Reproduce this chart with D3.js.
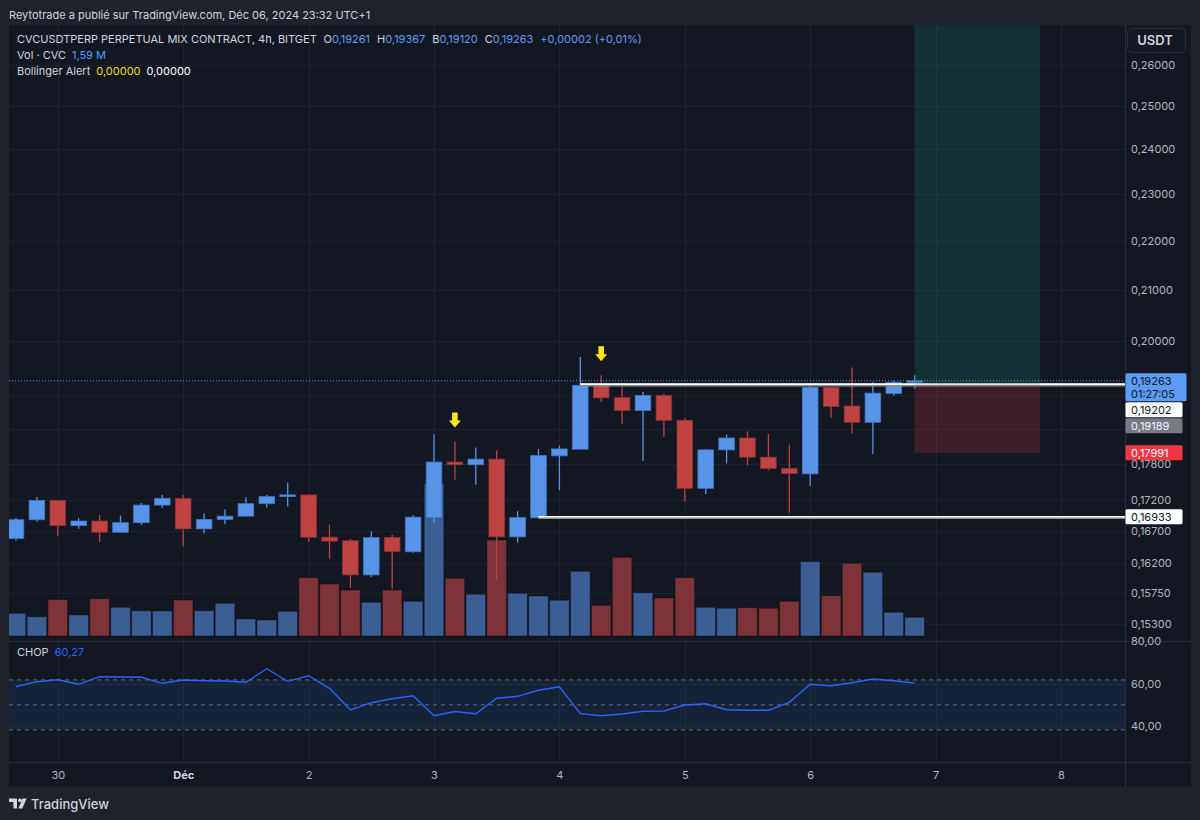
<!DOCTYPE html>
<html lang="fr">
<head>
<meta charset="UTF-8">
<title>CVCUSDTPERP 4h</title>
<script src="https://cdn.jsdelivr.net/npm/d3@7"></script>
<style>
  body { margin: 0; background: #1f222b; }
  svg { display: block; font-family: Inter, "Noto Sans", sans-serif; }
</style>
</head>
<body>
<svg id="chart" width="1200" height="820"></svg>
<script>
// bougies 4h, index 0 = 29 nov 16:00 (UTC+1)
const opens  = [0.16587,0.16884,0.17198,0.16790,0.16864,0.16685,0.16837,0.17121,0.17231,0.16739,0.16889,0.16942,0.17143,0.17259,0.17287,0.16607,0.16551,0.16023,0.16602,0.16379,0.16920,0.17834,0.17789,0.17884,0.16613,0.16915,0.17939,0.18053,0.19180,0.18960,0.18726,0.18995,0.18555,0.17396,0.18041,0.18246,0.17917,0.17728,0.17635,0.19143,0.18808,0.18520,0.19032,0.19261];
const highs  = [0.16911,0.17254,0.17205,0.16911,0.16962,0.16951,0.17154,0.17287,0.17287,0.16983,0.17055,0.17247,0.17287,0.17486,0.17290,0.16806,0.16582,0.16696,0.16645,0.16955,0.18310,0.18187,0.18081,0.18035,0.17022,0.18058,0.18116,0.19704,0.19364,0.19229,0.19058,0.19026,0.18591,0.18058,0.18304,0.18362,0.18317,0.18129,0.19180,0.19150,0.19507,0.19235,0.19261,0.19367];
const lows   = [0.16556,0.16853,0.16623,0.16739,0.16529,0.16681,0.16801,0.17077,0.16466,0.16670,0.16811,0.16935,0.17081,0.17098,0.16535,0.16269,0.15826,0.15993,0.15812,0.16363,0.16833,0.17536,0.17453,0.15949,0.16524,0.16910,0.17363,0.18050,0.18879,0.18492,0.17851,0.18264,0.17181,0.17297,0.17811,0.17773,0.17695,0.16998,0.17430,0.18603,0.18322,0.17972,0.18995,0.19120];
const closes = [0.16884,0.17198,0.16790,0.16864,0.16685,0.16837,0.17121,0.17231,0.16739,0.16889,0.16942,0.17143,0.17259,0.17287,0.16607,0.16545,0.16023,0.16602,0.16383,0.16926,0.17834,0.17789,0.17884,0.16613,0.16920,0.17944,0.18058,0.19180,0.18954,0.18726,0.18995,0.18555,0.17396,0.18041,0.18246,0.17917,0.17728,0.17640,0.19143,0.18801,0.18520,0.19039,0.19235,0.19263];
// volume en millions de CVC
const volumes = [1.93,1.64,3.09,1.79,3.17,2.44,2.15,2.13,3.06,2.15,2.78,1.45,1.36,2.10,4.96,4.42,3.91,2.87,3.91,2.95,12.92,4.91,3.55,8.16,3.63,3.40,3.04,5.50,2.61,6.69,3.68,3.23,4.96,2.44,2.36,2.41,2.36,2.95,6.32,3.43,6.18,5.42,2.02,1.59];
const chop = [58.58,60.95,61.89,59.72,63.31,63.17,63.03,60.19,61.75,61.42,61.28,60.66,67.09,61.13,63.78,57.83,47.57,51.02,52.91,54.33,44.87,46.86,45.82,53.10,54.04,56.88,58.58,45.82,44.87,45.67,46.95,47.09,49.93,50.54,47.71,47.42,47.42,51.21,59.72,59.05,60.47,62.22,61.42,60.27];

// flèches "Bollinger Alert"
const alertBars = [21, 28];

// niveaux horizontaux tracés (prix, bougie de départ)
const levelPrices = [0.19202, 0.16933];
const levelStart = [27, 25];

// position longue
const posStartBar = 43, posEndBar = 49;
const posEntry = 0.19189, posStop = 0.17991, posTarget = 0.28;

// lignes de grille (0.19 et 0.184 sont cachées par les étiquettes)
const gridPrices = [0.26, 0.25, 0.24, 0.23, 0.22, 0.21, 0.20, 0.19, 0.184, 0.178, 0.172, 0.167, 0.162, 0.1575, 0.153];
const priceTicks = [0.26, 0.25, 0.24, 0.23, 0.22, 0.21, 0.20, 0.178, 0.172, 0.167, 0.162, 0.1575, 0.153];
const chopTicks = [80, 60, 40];
const chopLevels = [61.8, 50, 38.2];
const countdown = "01:27:05";

const UP = "#5895e9", DOWN = "#be4342";
const UP_BORDER = "#3f77c9", DOWN_BORDER = "#8f3232";
const VOL_UP = "#3b5e95", VOL_DOWN = "#7d3337";
const TXT = "#d1d4dc", TICK = "#b2b5be", BLUE = "#5b9cf6";

const svg = d3.select("#chart");
const pane = {left: 9, right: 1125, top: 25, bottom: 640};
const chopPane = {top: 642, bottom: 762};
const frameRight = 1191, frameBottom = 787;

const t0 = Date.UTC(2024, 10, 29, 16);
const step = 4 * 3600 * 1000;
const dates = opens.map((d, i) => new Date(t0 + i * step));
const barDate = i => new Date(t0 + i * step);
const fmt5 = v => v.toFixed(5).replace(".", ",");

const x = d3.scaleUtc()
    .domain([new Date(t0), new Date(Date.UTC(2024, 11, 8))])
    .range([16, 1061]);
const y = d3.scaleLog().domain([0.153, 0.26]).range([623.6, 64.7]);
const yVol = d3.scaleLinear().domain([0, 13]).range([636, 483]);
const yChop = d3.scaleLinear().domain([40, 60]).range([726, 683.7]);

// fonds
svg.append("rect").attr("width", 1200).attr("height", 820).attr("fill", "#1f222b");
svg.append("rect")
    .attr("x", pane.left).attr("y", pane.top)
    .attr("width", frameRight - pane.left).attr("height", frameBottom - pane.top)
    .attr("fill", "#131722");

const defs = svg.append("defs");
defs.append("clipPath").attr("id", "clipMain").append("rect")
    .attr("x", pane.left).attr("y", pane.top)
    .attr("width", pane.right - pane.left).attr("height", pane.bottom - pane.top);
defs.append("clipPath").attr("id", "clipChop").append("rect")
    .attr("x", pane.left).attr("y", chopPane.top)
    .attr("width", pane.right - pane.left).attr("height", chopPane.bottom - chopPane.top);

// grille
const dayTicks = d3.utcDay.range(new Date(Date.UTC(2024, 10, 30)), new Date(Date.UTC(2024, 11, 8, 1)));
const grid = svg.append("g").attr("stroke", "#1e222d").attr("stroke-width", 1);
grid.selectAll(".v").data(dayTicks).join("line")
    .attr("x1", d => Math.round(x(d)) + 0.5).attr("x2", d => Math.round(x(d)) + 0.5)
    .attr("y1", pane.top).attr("y2", chopPane.bottom);
grid.selectAll(".h").data(gridPrices).join("line")
    .attr("x1", pane.left).attr("x2", pane.right)
    .attr("y1", d => Math.round(y(d)) + 0.5).attr("y2", d => Math.round(y(d)) + 0.5);
grid.selectAll(".hc").data([60, 40]).join("line")
    .attr("x1", pane.left).attr("x2", pane.right)
    .attr("y1", d => Math.round(yChop(d)) + 0.5).attr("y2", d => Math.round(yChop(d)) + 0.5);

const main = svg.append("g").attr("clip-path", "url(#clipMain)");

// volume
main.append("g").selectAll("rect").data(volumes).join("rect")
    .attr("x", (d, i) => x(dates[i]) - 9.8)
    .attr("width", 19.6)
    .attr("y", d => yVol(d))
    .attr("height", d => yVol(0) - yVol(d))
    .attr("fill", (d, i) => closes[i] >= opens[i] ? VOL_UP : VOL_DOWN)
    .attr("stroke", "rgba(10,12,20,0.45)")
    .attr("stroke-width", 1);

// bougies
const candles = main.append("g").selectAll("g").data(opens).join("g");
candles.append("line")
    .attr("x1", (d, i) => x(dates[i])).attr("x2", (d, i) => x(dates[i]))
    .attr("y1", (d, i) => y(highs[i])).attr("y2", (d, i) => y(lows[i]))
    .attr("stroke", (d, i) => closes[i] >= opens[i] ? UP : DOWN)
    .attr("stroke-width", 1.3);
candles.append("rect")
    .attr("x", (d, i) => x(dates[i]) - 7.8)
    .attr("width", 15.6)
    .attr("y", (d, i) => y(Math.max(opens[i], closes[i])))
    .attr("height", (d, i) => Math.max(1.5, y(Math.min(opens[i], closes[i])) - y(Math.max(opens[i], closes[i]))))
    .attr("fill", (d, i) => closes[i] >= opens[i] ? UP : DOWN)
    .attr("stroke", (d, i) => closes[i] >= opens[i] ? UP_BORDER : DOWN_BORDER)
    .attr("stroke-width", 0.8);

// flèches jaunes
main.append("g").selectAll("path").data(alertBars).join("path")
    .attr("transform", i => `translate(${x(dates[i])},${y(highs[i]) - 14})`)
    .attr("d", "M-2.8,-15 L2.8,-15 L2.8,-7 L6,-7 L0,0 L-6,-7 L-2.8,-7 Z")
    .attr("fill", "#ffe61a");

// ligne du dernier prix
const last = opens.length - 1;
main.append("line")
    .attr("x1", pane.left).attr("x2", pane.right)
    .attr("y1", y(closes[last])).attr("y2", y(closes[last]))
    .attr("stroke", BLUE).attr("stroke-width", 1).attr("stroke-dasharray", "1,2");

// niveaux horizontaux
const levels = main.append("g").selectAll("g").data(levelPrices).join("g");
levels.append("line")
    .attr("x1", (d, i) => x(barDate(levelStart[i]))).attr("x2", pane.right)
    .attr("y1", d => y(d) + 0.8).attr("y2", d => y(d) + 0.8)
    .attr("stroke", "#8a8d96").attr("stroke-width", 3);
levels.append("line")
    .attr("x1", (d, i) => x(barDate(levelStart[i]))).attr("x2", pane.right)
    .attr("y1", d => y(d)).attr("y2", d => y(d))
    .attr("stroke", "#ffffff").attr("stroke-width", 1.6);

// position longue
const px0 = x(barDate(posStartBar)), px1 = x(barDate(posEndBar));
main.append("rect")
    .attr("x", px0).attr("width", px1 - px0)
    .attr("y", y(posTarget)).attr("height", y(posEntry) - y(posTarget))
    .attr("fill", "rgba(8,153,129,0.2)");
main.append("rect")
    .attr("x", px0).attr("width", px1 - px0)
    .attr("y", y(posEntry)).attr("height", y(posStop) - y(posEntry))
    .attr("fill", "rgba(242,54,69,0.2)");

// panneau CHOP
const chopG = svg.append("g").attr("clip-path", "url(#clipChop)");
chopG.append("rect")
    .attr("x", pane.left).attr("width", pane.right - pane.left)
    .attr("y", yChop(chopLevels[0])).attr("height", yChop(chopLevels[2]) - yChop(chopLevels[0]))
    .attr("fill", "rgba(33,150,243,0.1)");
chopG.selectAll(".lvl").data(chopLevels).join("line")
    .attr("x1", pane.left).attr("x2", pane.right)
    .attr("y1", d => yChop(d)).attr("y2", d => yChop(d))
    .attr("stroke", "#787b86").attr("stroke-opacity", 0.85)
    .attr("stroke-width", 1).attr("stroke-dasharray", "4,4");
chopG.append("path")
    .datum(chop)
    .attr("d", d3.line().x((d, i) => x(dates[i])).y(d => yChop(d)))
    .attr("fill", "none").attr("stroke", "#2962ff").attr("stroke-width", 1.4);

// séparateurs
const sep = svg.append("g").attr("stroke", "#2a2e39").attr("stroke-width", 1);
sep.append("line").attr("x1", pane.left).attr("x2", frameRight).attr("y1", 641.5).attr("y2", 641.5);
sep.append("line").attr("x1", pane.left).attr("x2", frameRight).attr("y1", 762.5).attr("y2", 762.5);
sep.append("line").attr("x1", 1125.5).attr("x2", 1125.5).attr("y1", pane.top).attr("y2", frameBottom);

// axe des prix
const priceAxis = svg.append("g")
    .attr("transform", `translate(${pane.right},0)`)
    .call(d3.axisRight(y).tickValues(priceTicks).tickSize(0).tickPadding(6).tickFormat(fmt5));
priceAxis.select(".domain").remove();
priceAxis.selectAll("text").attr("fill", TICK).attr("font-size", 11).attr("font-family", "Inter");

const chopAxis = svg.append("g")
    .attr("transform", `translate(${pane.right},0)`)
    .call(d3.axisRight(yChop).tickValues(chopTicks).tickSize(0).tickPadding(6).tickFormat(d => d.toFixed(2).replace(".", ",")));
chopAxis.select(".domain").remove();
chopAxis.selectAll("text").attr("fill", TICK).attr("font-size", 11).attr("font-family", "Inter");

// axe du temps
const timeAxis = svg.append("g")
    .attr("transform", `translate(0,${chopPane.bottom})`)
    .call(d3.axisBottom(x).tickValues(dayTicks).tickSize(0).tickPadding(9)
        .tickFormat(d => d.getUTCDate() === 1 ? "Déc" : String(d.getUTCDate())));
timeAxis.select(".domain").remove();
timeAxis.selectAll("text")
    .attr("fill", d => d.getUTCDate() === 1 ? TXT : TICK)
    .attr("font-weight", d => d.getUTCDate() === 1 ? 700 : 400)
    .attr("font-size", 11).attr("font-family", "Inter");

// étiquettes de prix sur l'axe
const tags = [
  {price: closes[last], bg: BLUE, fg: "#131722", lines: [fmt5(closes[last]), countdown], w: 61},
  {price: levelPrices[0], bg: "#ffffff", fg: "#131722", lines: [fmt5(levelPrices[0])], w: 57},
  {price: posEntry, bg: "#787b86", fg: "#f0f3fa", lines: [fmt5(posEntry)], w: 57},
  {price: posStop, bg: "#f23645", fg: "#ffffff", lines: [fmt5(posStop)], w: 57},
  {price: levelPrices[1], bg: "#ffffff", fg: "#131722", lines: [fmt5(levelPrices[1])], w: 57}
].sort((a, b) => b.price - a.price);
let prevBottom = -Infinity;
tags.forEach(t => {
  const h = 15 + (t.lines.length - 1) * 13;
  t.top = Math.max(y(t.price) - 7.5, prevBottom + 1);
  t.h = h;
  prevBottom = t.top + h;
});
const tagG = svg.append("g").selectAll("g").data(tags).join("g")
    .attr("transform", t => `translate(${pane.right + 0.5},${t.top})`);
tagG.append("rect").attr("width", t => t.w).attr("height", t => t.h).attr("rx", 1.5).attr("fill", t => t.bg);
tagG.append("text")
    .attr("x", 5.5).attr("font-size", 11).attr("fill", t => t.fg)
    .selectAll("tspan").data(t => t.lines).join("tspan")
    .attr("x", 5.5).attr("y", (d, i) => 11.3 + i * 13).text(d => d);

// bouton devise
svg.append("rect").attr("x", 1127.5).attr("y", 28.5).attr("width", 58).attr("height", 24).attr("rx", 4)
    .attr("fill", "#131722").attr("stroke", "#2a2e39");
svg.append("text").attr("x", 1155).attr("y", 45).attr("text-anchor", "middle")
    .attr("font-size", 13).attr("font-weight", 600).attr("fill", TXT).text("USDT");

// titre de publication
svg.append("text").attr("x", 9).attr("y", 18.5).attr("font-size", 11).attr("fill", TXT)
    .text("Reytotrade a publié sur TradingView.com, Déc 06, 2024 23:32 UTC+1");

// légende
const chg = closes[last] - opens[last];
const sign = chg >= 0 ? "+" : "−";
const legend1 = svg.append("text").attr("x", 17).attr("y", 43).attr("font-size", 11).attr("fill", TXT);
legend1.append("tspan").text("CVCUSDTPERP PERPETUAL MIX CONTRACT, 4h, BITGET");
[["O", opens[last]], ["H", highs[last]], ["B", lows[last]], ["C", closes[last]]].forEach(([k, v]) => {
  legend1.append("tspan").attr("dx", 7).text(k);
  legend1.append("tspan").attr("fill", BLUE).text(fmt5(v));
});
legend1.append("tspan").attr("dx", 7).attr("fill", BLUE)
    .text(`${sign}${fmt5(Math.abs(chg))} (${sign}${(Math.abs(chg) / opens[last] * 100).toFixed(2).replace(".", ",")}%)`);

const legend2 = svg.append("text").attr("x", 17).attr("y", 59).attr("font-size", 11).attr("fill", TXT);
legend2.append("tspan").text("Vol · CVC");
legend2.append("tspan").attr("dx", 6).attr("fill", BLUE).text(volumes[last].toFixed(2).replace(".", ",") + " M");

const legend3 = svg.append("text").attr("x", 17).attr("y", 75).attr("font-size", 11).attr("fill", TXT);
legend3.append("tspan").text("Bollinger Alert");
legend3.append("tspan").attr("dx", 6).attr("fill", "#f5dd1e").text("0,00000");
legend3.append("tspan").attr("dx", 6).attr("fill", "#ffffff").text("0,00000");

const legend4 = svg.append("text").attr("x", 17).attr("y", 656).attr("font-size", 11).attr("fill", TXT);
legend4.append("tspan").text("CHOP");
legend4.append("tspan").attr("dx", 6).attr("fill", "#2962ff").text(chop[last].toFixed(2).replace(".", ","));

// pied de page TradingView
const logo = svg.append("g").attr("fill", TXT);
logo.append("path").attr("d", "M9,798.5 H17 V808.5 H13.4 V802 H9 Z");
logo.append("circle").attr("cx", 20).attr("cy", 800.3).attr("r", 1.9);
logo.append("path").attr("d", "M22.6,798.5 H26.6 L22.3,808.5 H18.3 Z");
svg.append("text").attr("x", 31).attr("y", 808.5).attr("font-size", 13).attr("font-weight", 500)
    .attr("fill", TXT).text("TradingView");
</script>
</body>
</html>
